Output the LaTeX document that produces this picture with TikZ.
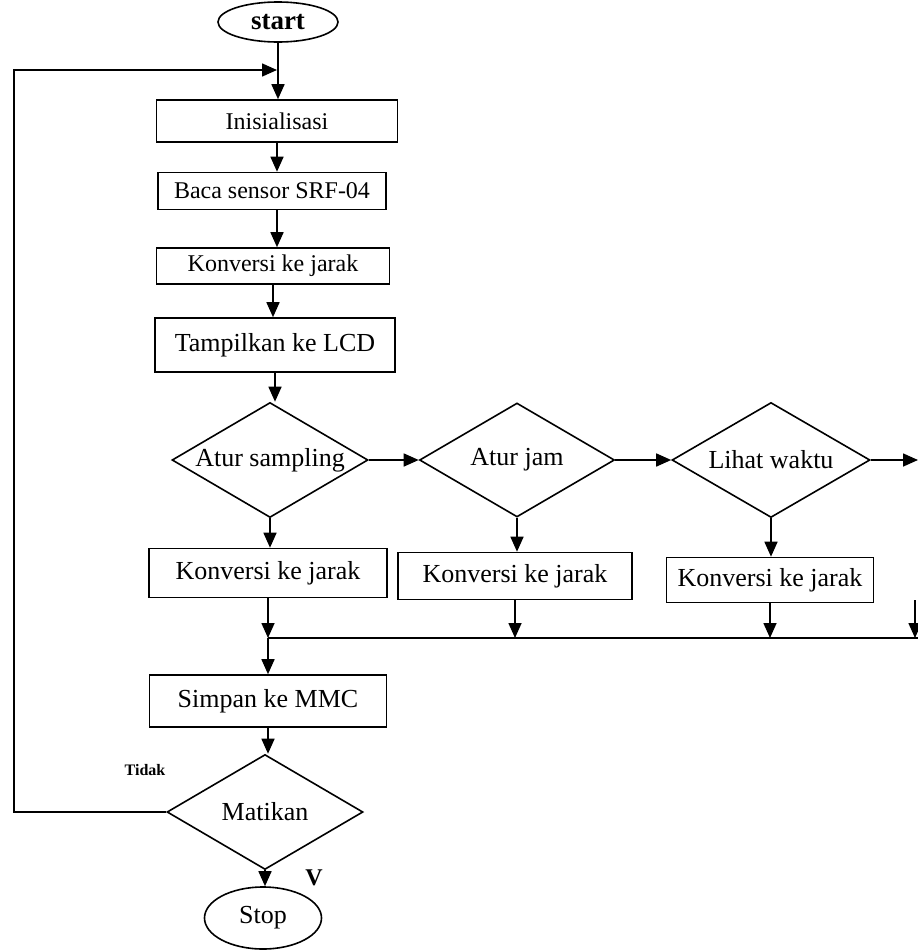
\documentclass[tikz,border=0pt]{standalone}
\usepackage{fontspec}
\setmainfont{Liberation Serif}
\usetikzlibrary{shapes.geometric,arrows.meta}
\begin{document}
\begin{tikzpicture}
  [every node/.style={inner sep=0pt},
   box/.style={rectangle, draw=black, line width=1.6pt, fill=white, font=\fontsize{26}{30}\selectfont},
   smallbox/.style={box, font=\fontsize{24}{28}\selectfont},
   decision/.style={diamond, aspect=1.7, draw=black, line width=1.6pt, fill=white, font=\fontsize{26}{30}\selectfont},
   terminal/.style={ellipse, draw=black, line width=1.6pt, fill=white, font=\fontsize{26}{30}\selectfont},
   flow/.style={line width=1.6pt, -{Triangle[length=15pt, width=13pt]}},
   wire/.style={line width=1.6pt}]
  \useasboundingbox (0pt,0pt) rectangle (918pt,-951pt);
  % main column
  \node (start) [terminal, minimum width=120pt, minimum height=40pt, font=\bfseries\fontsize{27}{30}\selectfont] at (278pt,-22pt) {start};
  \node (init) [smallbox, minimum width=241pt, minimum height=42pt] at (277pt,-121pt) {Inisialisasi};
  \node (baca) [smallbox, minimum width=228pt, minimum height=37pt] at (272pt,-191pt) {Baca sensor SRF-04};
  \node (konv) [smallbox, minimum width=233pt, minimum height=36pt] at (273pt,-266pt) {Konversi ke jarak};
  \node (lcd) [box, minimum width=240pt, minimum height=54pt] at (275pt,-345pt) {Tampilkan ke LCD};
  % menu choices
  \node (samp) [decision, minimum width=196pt, minimum height=115pt] at (270pt,-460pt) {Atur sampling};
  \node (jam) [decision, minimum width=195pt, minimum height=114pt] at (517pt,-460pt) {Atur jam};
  \node (lihat) [decision, minimum width=198pt, minimum height=115pt] at (771pt,-460pt) {Lihat waktu};
  \node (konvA) [box, minimum width=238pt, minimum height=49pt] at (268pt,-573pt) {Konversi ke jarak};
  \node (konvB) [box, minimum width=234pt, minimum height=47pt] at (515pt,-576pt) {Konversi ke jarak};
  \node (konvC) [box, minimum width=207pt, minimum height=45pt] at (770pt,-580pt) {Konversi ke jarak};
  % saving and stop
  \node (simpan) [box, minimum width=237pt, minimum height=52pt] at (268pt,-701pt) {Simpan ke MMC};
  \node (matikan) [decision, minimum width=196pt, minimum height=115pt] at (265pt,-812pt) {Matikan};
  \node (stop) [terminal, minimum width=117pt, minimum height=62pt] at (263pt,-918pt) {Stop};
  \node (tidak) [font=\bfseries\fontsize{16}{19}\selectfont] at (145pt,-770pt) {Tidak};
  \node (ya) [font=\bfseries\fontsize{24}{26}\selectfont] at (314pt,-878pt) {V};
  % helper points
  \coordinate (join) at (277pt,-70pt);
  \coordinate (loopcorner) at (14pt,-70pt);
  \coordinate (mergeL) at (268pt,-638pt);
  \coordinate (mergeR) at (918pt,-638pt);
  \coordinate (offR) at (918pt,-460pt);
  \coordinate (backR) at (915pt,-600pt);
  % connectors
  \draw [flow] (start.south) -- (start.south |- init.north);
  \draw [flow] (init.south) -- (init.south |- baca.north);
  \draw [flow] (init.south |- baca.south) -- (init.south |- konv.north);
  \draw [flow] (konv.south) -- (konv.south |- lcd.north);
  \draw [flow] (lcd.south) -- (lcd.south |- samp.north);
  \draw [flow] (samp.east) -- (jam.west);
  \draw [flow] (jam.east) -- (lihat.west);
  \draw [flow] (lihat.east) -- (offR);
  \draw [flow] (samp.south) -- (samp.south |- konvA.north);
  \draw [flow] (jam.south) -- (jam.south |- konvB.north);
  \draw [flow] (lihat.south) -- (lihat.south |- konvC.north);
  \draw [wire] (mergeL) -- (mergeR);
  \draw [flow] (konvA.south) -- (konvA.south |- mergeL);
  \draw [flow] (konvB.south) -- (konvB.south |- mergeL);
  \draw [flow] (konvC.south) -- (konvC.south |- mergeL);
  \draw [flow] (backR) -- (backR |- mergeR);
  \draw [flow] (mergeL) -- (mergeL |- simpan.north);
  \draw [flow] (simpan.south) -- (simpan.south |- matikan.north);
  \draw [flow] (matikan.south) -- (matikan.south |- stop.north);
  \draw [flow] (matikan.west) -| (loopcorner) -- (join);
\end{tikzpicture}
\end{document}
